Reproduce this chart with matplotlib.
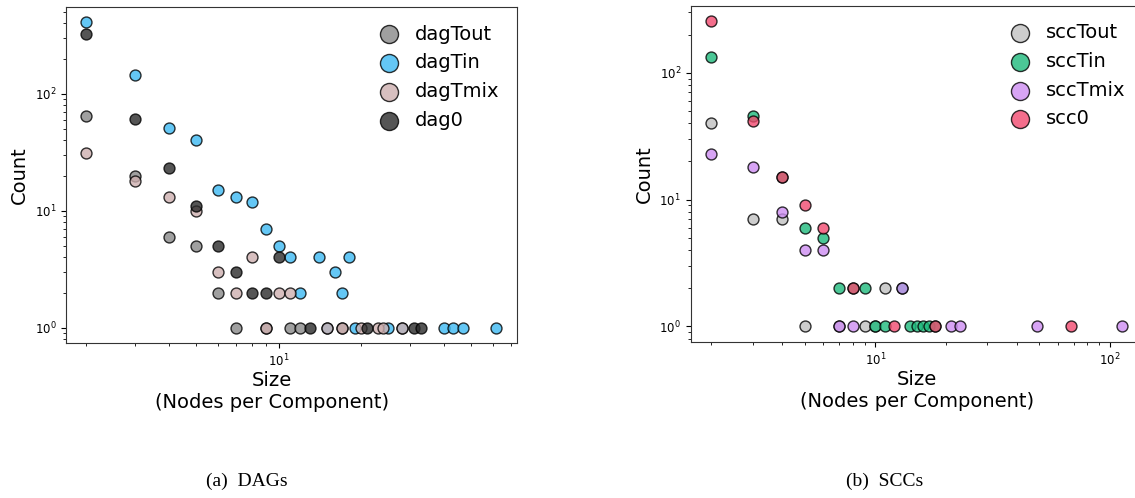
import matplotlib
matplotlib.use("Agg")
import matplotlib.pyplot as plt

# DAG component size distribution
dagTout_x = [2, 3, 4, 5, 6, 7, 9, 11, 12, 17]
dagTout_y = [65, 20, 6, 5, 2, 1, 1, 1, 1, 1]
dagTin_x = [2, 3, 4, 5, 6, 7, 8, 9, 10, 11, 12, 14, 15, 16, 17, 18, 19, 25, 28, 40, 43, 47, 62]
dagTin_y = [409, 144, 51, 40, 15, 13, 12, 7, 5, 4, 2, 4, 1, 3, 2, 4, 1, 1, 1, 1, 1, 1, 1]
dagTmix_x = [2, 3, 4, 5, 6, 7, 8, 9, 10, 11, 15, 17, 20, 23, 24, 28]
dagTmix_y = [31, 18, 13, 10, 3, 2, 4, 1, 2, 2, 1, 1, 1, 1, 1, 1]
dag0_x = [2, 3, 4, 5, 6, 7, 8, 9, 10, 13, 21, 31, 33]
dag0_y = [327, 61, 23, 11, 5, 3, 2, 2, 4, 1, 1, 1, 1]

# SCC component size distribution
sccTout_x = [2, 3, 4, 5, 7, 9, 10, 11]
sccTout_y = [40, 7, 7, 1, 1, 1, 1, 2]
sccTin_x = [2, 3, 4, 5, 6, 7, 8, 9, 10, 11, 13, 14, 15, 16, 17, 18]
sccTin_y = [132, 46, 15, 6, 5, 2, 2, 2, 1, 1, 2, 1, 1, 1, 1, 1]
sccTmix_x = [2, 3, 4, 5, 6, 7, 8, 13, 21, 23, 49, 113]
sccTmix_y = [23, 18, 8, 4, 4, 1, 1, 2, 1, 1, 1, 1]
scc0_x = [2, 3, 4, 5, 6, 8, 12, 18, 68]
scc0_y = [256, 42, 15, 9, 6, 2, 1, 1, 1]

dag_series = [
    ('dagTout', dagTout_x, dagTout_y, '#888888'),
    ('dagTin', dagTin_x, dagTin_y, '#3dbaf3'),
    ('dagTmix', dagTmix_x, dagTmix_y, '#ceb0b0'),
    ('dag0', dag0_x, dag0_y, '#2a2a2a'),
]
scc_series = [
    ('sccTout', sccTout_x, sccTout_y, '#c1c1c1'),
    ('sccTin', sccTin_x, sccTin_y, '#1eba7c'),
    ('sccTmix', sccTmix_x, sccTmix_y, '#cd8ef2'),
    ('scc0', scc0_x, scc0_y, '#f24a6f'),
]

fig = plt.figure(figsize=(11.35, 4.98), dpi=100)
ax1 = fig.add_axes([0.0581, 0.3112, 0.3974, 0.6747])
ax2 = fig.add_axes([0.6086, 0.3139, 0.3985, 0.6747])


def draw(ax, series):
    for name, xs, ys, col in series:
        ax.scatter(xs, ys, s=62, color=col, alpha=0.8, edgecolors='black',
                   linewidths=1.0, label=name)
    ax.set_xscale('log')
    ax.set_yscale('log')
    ax.set_ylabel('Count', fontsize=14)
    ax.set_xlabel('Size\n(Nodes per Component)', fontsize=14)
    ax.tick_params(labelsize=8.5)
    for sp in ax.spines.values():
        sp.set_color('#333333')
    ax.legend(loc='upper right', frameon=False, fontsize=14, markerscale=1.65,
              handletextpad=0.35, labelspacing=0.5)


draw(ax1, dag_series)
draw(ax2, scc_series)
ax1.xaxis.set_label_coords(0.457, -0.083)
ax2.xaxis.set_label_coords(0.5, -0.083)

fig.text(247 / 1135, 1 - 481 / 498, '(a)  DAGs', family='Liberation Serif',
         fontsize=14, ha='center', va='center')
fig.text(885 / 1135, 1 - 481 / 498, '(b)  SCCs', family='Liberation Serif',
         fontsize=14, ha='center', va='center')

fig.savefig('out.png', dpi=100)
